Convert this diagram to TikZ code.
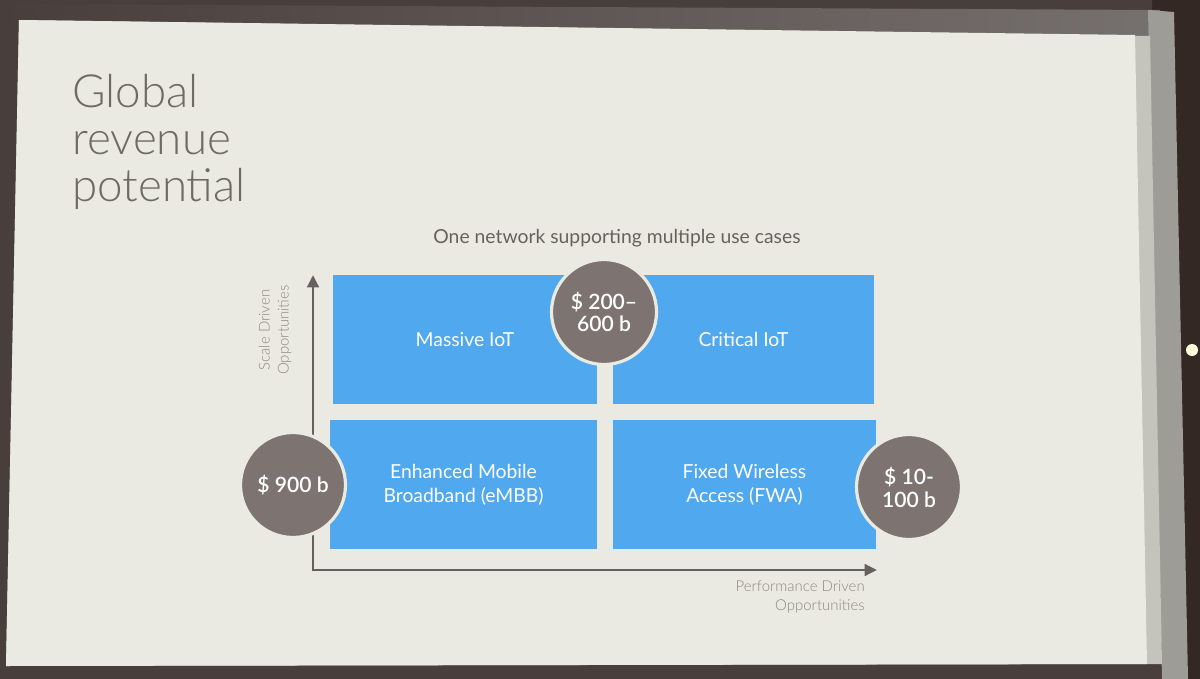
\documentclass[tikz,border=0pt]{standalone}
\usepackage{fontspec}
\setmainfont{Lato}
\newfontfamily\lightfont{Lato}[UprightFont=* Light]
\newfontfamily\semifont{Lato}[UprightFont=* Semibold]
\usetikzlibrary{arrows.meta}

\definecolor{venue}{RGB}{52,40,36}
\definecolor{framedark}{RGB}{72,62,59}
\definecolor{framegrey}{RGB}{118,112,110}
\definecolor{frameside}{RGB}{158,156,150}
\definecolor{screenedge}{RGB}{196,196,188}
\definecolor{slidebg}{RGB}{234,234,226}
\definecolor{titlegrey}{RGB}{110,106,102}
\definecolor{labelgrey}{RGB}{140,135,130}
\definecolor{axisgrey}{RGB}{102,97,95}
\definecolor{caseblue}{RGB}{80,168,238}
\definecolor{valuegrey}{RGB}{125,116,113}

\begin{document}
\begin{tikzpicture}[x=0.02cm,y=-0.02cm,
    usecase/.style={fill=caseblue, text=white, align=center, inner sep=0pt,
      minimum height=2.6cm, font=\fontsize{11}{13.5}\selectfont},
    value/.style={circle, fill=valuegrey, draw=slidebg, line width=1.8pt,
      minimum size=2.1cm, inner sep=0pt, text=white, align=center,
      font=\semifont\fontsize{12}{13}\selectfont},
    axislabel/.style={text=labelgrey, inner sep=0pt,
      font=\lightfont\fontsize{8.5}{10.8}\selectfont},
    axis/.style={draw=axisgrey, line width=1.7pt,
      -{Triangle[length=7pt,width=6.5pt]}}]
  % screen, frame and room behind it
  \fill[venue] (0,0) rectangle (1200,679);
  \fill[framedark] (0,0) -- (1152,0) -- (1166,679) -- (0,679) -- cycle;
  \shade[left color=framedark, right color=framegrey] (0,4) -- (1160,10) -- (1160,37) -- (0,21) -- cycle;
  \fill[frameside] (1148,10) -- (1174,12) -- (1188,679) -- (1162,679) -- cycle;
  \fill[white!85!yellow] (1192,350) circle (6);
  \fill[screenedge] (19,20) -- (1150,36) -- (1162,664) -- (6,666) -- cycle;
  \fill[slidebg] (19,20) -- (1135,35) -- (1147,664) -- (6,666) -- cycle;

  % title
  \node[anchor=north west, inner sep=0pt, align=left, text=titlegrey,
    font=\lightfont\fontsize{26}{26.6}\selectfont] (title) at (72,74)
    {Global\\revenue\\potential};
  \node[anchor=base, inner sep=0pt, text=axisgrey,
    font=\fontsize{11}{13}\selectfont] (subtitle) at (617,243)
    {One network supporting multiple use cases};

  % use cases
  \node[usecase, minimum width=5.28cm] (miot) at (465,339.5) {Massive IoT};
  \node[usecase, minimum width=5.22cm] (ciot) at (743.5,339.5) {Critical IoT};
  \node[usecase, minimum width=5.34cm] (embb) at (463.5,484.5) {Enhanced Mobile\\Broadband (eMBB)};
  \node[usecase, minimum width=5.26cm] (fwa) at (744.5,484.5) {Fixed Wireless\\Access (FWA)};

  % axes
  \coordinate (origin) at (313,570);
  \coordinate (ytip) at (313,275);
  \coordinate (xtip) at (877,570);
  \draw[axis] ([yshift=0.85pt]origin) -- (ytip);
  \draw[axis] ([xshift=-0.85pt]origin) -- (xtip);
  \node[axislabel, rotate=90, align=center] (scalelabel) at (275,330)
    {Scale Driven\\Opportunities};
  \node[axislabel, anchor=north east, align=right] (perflabel) at (865,580)
    {Performance Driven\\Opportunities};

  % revenue values
  \node[value] (iotvalue) at (604,312) {\$ 200–\\600 b};
  \node[value] (mbbvalue) at (293,485) {\$ 900 b};
  \node[value] (fwavalue) at (909,487) {\$ 10-\\100 b};
\end{tikzpicture}
\end{document}
